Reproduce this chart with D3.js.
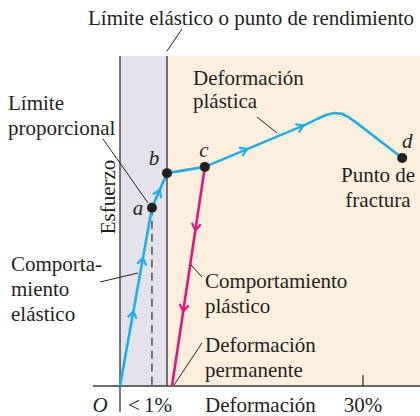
<!DOCTYPE html>
<html>
<head>
<meta charset="utf-8">
<script src="https://cdn.jsdelivr.net/npm/d3@7"></script>
<style>
  body { margin: 0; background: #fff; }
  svg text { font-family: "Liberation Serif", "Times New Roman", serif; fill: #231f20; }
</style>
</head>
<body>
<div id="chart"></div>
<script>
// strain in %, stress in arbitrary units (figure is schematic)
const elasticPath = [[0, 0], [0.68, 54], [1.0, 64.5]];          // O -> a -> b
const plasticPath = [[1.0, 64.5], [6.6, 66.4], [21.5, 79.2], [23.3, 81.0], [24.6, 82.2],
    [25.8, 82.7], [26.9, 82.5], [28.0, 81.3], [29.2, 79.5], [35.8, 69.1]]; // b -> c -> d
const unloadPath = [[6.6, 66.4], [1.74, 0]];                     // c -> permanent set
const pointNames = ["a", "b", "c", "d"];
const pointValues = [[0.68, 54], [1.0, 64.5], [6.6, 66.4], [35.8, 69.1]];
const xTicks = [30];
const elasticLimit = 1;

const width = 420, height = 416;
const blue = "#1cb0e8", pink = "#e6137f", ink = "#231f20";
const fs = 21;

const svg = d3.select("#chart").append("svg")
    .attr("width", width)
    .attr("height", height);

// schematic x scale: first 1% is stretched out
let x = d3.scaleLinear().domain([0, elasticLimit, 30]).range([120, 167, 363]);
let xFar = d3.scaleLinear().domain([elasticLimit, 30]).range([167, 363]);
let xs = function(v) { return v <= 30 ? x(v) : xFar(v); };
let y = d3.scaleLinear().domain([0, 100]).range([386, 56]);

// background bands
svg.append("rect")
    .attr("x", x(0)).attr("y", y(100))
    .attr("width", x(elasticLimit) - x(0)).attr("height", y(0) - y(100))
    .attr("fill", "#e4e2eb");
svg.append("rect")
    .attr("x", x(elasticLimit)).attr("y", y(100))
    .attr("width", width - x(elasticLimit)).attr("height", y(0) - y(100))
    .attr("fill", "#fdefdd");

// axes
svg.append("line")
    .attr("x1", 93).attr("x2", width)
    .attr("y1", y(0)).attr("y2", y(0))
    .attr("stroke", "#3a3a3a").attr("stroke-width", 1.5);
svg.append("line")
    .attr("x1", x(0)).attr("x2", x(0))
    .attr("y1", y(100)).attr("y2", 412)
    .attr("stroke", ink).attr("stroke-width", 1.2);
svg.append("line")
    .attr("x1", x(elasticLimit)).attr("x2", x(elasticLimit))
    .attr("y1", y(100)).attr("y2", y(0))
    .attr("stroke", ink).attr("stroke-width", 1.2);
svg.selectAll(".tick")
    .data(xTicks)
    .enter()
    .append("line")
    .attr("x1", function(d) { return x(d); })
    .attr("x2", function(d) { return x(d); })
    .attr("y1", y(0) - 11).attr("y2", y(0))
    .attr("stroke", ink).attr("stroke-width", 1.2);

// dashed drop from proportional limit
svg.append("line")
    .attr("x1", x(pointValues[0][0])).attr("x2", x(pointValues[0][0]))
    .attr("y1", y(pointValues[0][1])).attr("y2", y(0))
    .attr("stroke", "#444").attr("stroke-width", 1.4)
    .attr("stroke-dasharray", "8,5");

let line = d3.line()
    .x(function(d) { return xs(d[0]); })
    .y(function(d) { return y(d[1]); });

svg.append("path").datum(elasticPath)
    .attr("d", line).attr("fill", "none")
    .attr("stroke", blue).attr("stroke-width", 2.6).attr("stroke-linejoin", "round");
svg.append("path").datum(plasticPath)
    .attr("d", line).attr("fill", "none")
    .attr("stroke", blue).attr("stroke-width", 2.6).attr("stroke-linejoin", "round");
svg.append("path").datum(unloadPath)
    .attr("d", line).attr("fill", "none")
    .attr("stroke", pink).attr("stroke-width", 2.6);

// arrowheads: [path, segment index, fraction along segment, colour]
const arrows = [
    [elasticPath, 0, 0.42, blue],
    [elasticPath, 0, 0.72, blue],
    [elasticPath, 1, 0.52, blue],
    [plasticPath, 1, 0.42, blue],
    [plasticPath, 1, 0.98, blue],
    [unloadPath, 0, 0.29, pink],
    [unloadPath, 0, 0.66, pink]
];
arrows.forEach(function(a) {
    let p0 = a[0][a[1]], p1 = a[0][a[1] + 1];
    let x0 = xs(p0[0]), y0 = y(p0[1]), x1 = xs(p1[0]), y1 = y(p1[1]);
    let px = x0 + (x1 - x0) * a[2], py = y0 + (y1 - y0) * a[2];
    let ang = Math.atan2(y1 - y0, x1 - x0) * 180 / Math.PI;
    svg.append("path")
        .attr("d", "M-7,-4.5L0,0L-7,4.5")
        .attr("transform", "translate(" + px + "," + py + ") rotate(" + ang + ")")
        .attr("fill", "none").attr("stroke", a[3]).attr("stroke-width", 2.2)
        .attr("stroke-linejoin", "miter");
});

// points
svg.selectAll(".pt")
    .data(pointValues)
    .enter()
    .append("circle")
    .attr("cx", function(d) { return xs(d[0]); })
    .attr("cy", function(d) { return y(d[1]); })
    .attr("r", 5)
    .attr("fill", ink);

const ptLabelPos = [[-14, 7], [-13, -8], [-1, -10], [5, -10]];
svg.selectAll(".ptlabel")
    .data(pointValues)
    .enter()
    .append("text")
    .attr("x", function(d, i) { return xs(d[0]) + ptLabelPos[i][0]; })
    .attr("y", function(d, i) { return y(d[1]) + ptLabelPos[i][1]; })
    .attr("text-anchor", "middle")
    .attr("font-style", "italic")
    .attr("font-size", fs)
    .text(function(d, i) { return pointNames[i]; });

// annotation text
function label(lines, x0, y0, anchor, dy) {
    let t = svg.append("text")
        .attr("font-size", fs)
        .attr("text-anchor", anchor || "start");
    lines.forEach(function(s, i) {
        t.append("tspan").attr("x", x0).attr("y", y0 + i * (dy || 24)).text(s);
    });
}
function leader(x1, y1, x2, y2) {
    svg.append("line")
        .attr("x1", x1).attr("y1", y1).attr("x2", x2).attr("y2", y2)
        .attr("stroke", ink).attr("stroke-width", 1);
}

label(["Límite elástico o punto de rendimiento"], 251, 25, "middle");
leader(167, 51, 182, 29);

label(["Límite", "proporcional"], 8, 110, "start", 25);
leader(103, 139, x(pointValues[0][0]) - 4, y(pointValues[0][1]) - 5);

label(["Deformación", "plástica"], 193, 85, "start", 23);
leader(257, 117, 277, 133);

label(["Punto de", "fractura"], 378, 182, "middle", 25);

label(["Comporta-", "miento", "elástico"], 11, 271, "start", 25);
leader(100, 282, 138, 273);

label(["Comportamiento", "plástico"], 205, 288, "start", 25);
leader(191, 265, 202, 277);

label(["Deformación", "permanente"], 205, 352, "start", 25);
leader(174, 385, 202, 343);

// axis labels
svg.append("text")
    .attr("transform", "translate(115,197) rotate(-90)")
    .attr("text-anchor", "middle")
    .attr("font-size", fs)
    .text("Esfuerzo");

svg.append("text").attr("x", 100).attr("y", 412).attr("text-anchor", "middle")
    .attr("font-style", "italic").attr("font-size", fs).text("O");
svg.append("text").attr("x", 128).attr("y", 412)
    .attr("font-size", fs).text("<\u20091%");
svg.append("text").attr("x", 205).attr("y", 412)
    .attr("font-size", fs).text("Deformación");
svg.selectAll(".ticklabel")
    .data(xTicks)
    .enter()
    .append("text")
    .attr("x", function(d) { return x(d); })
    .attr("y", 412)
    .attr("text-anchor", "middle")
    .attr("font-size", fs)
    .text(function(d) { return d + "%"; });
</script>
</body>
</html>
